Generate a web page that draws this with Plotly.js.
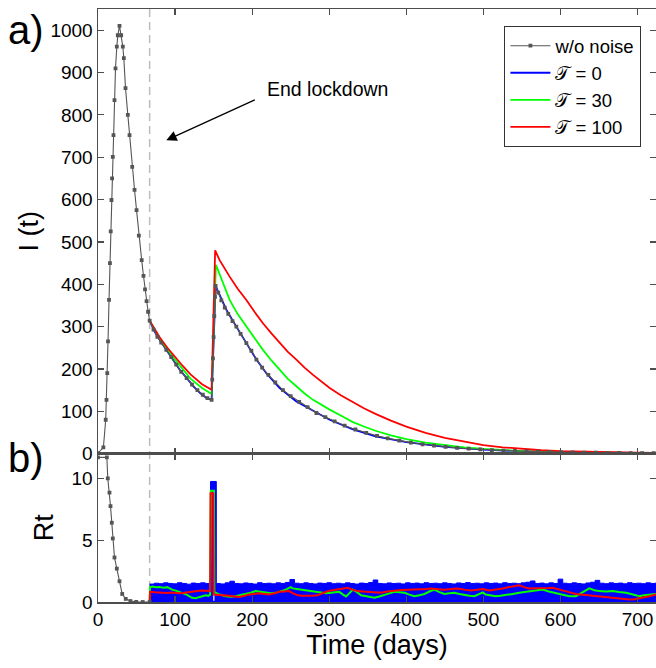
<!DOCTYPE html>
<html>
<head>
<meta charset="utf-8">
<script src="https://cdn.plot.ly/plotly-3.0.1.min.js"></script>
<style>html,body{margin:0;padding:0;background:#fff;}#chart{width:656px;height:668px;}</style>
</head>
<body>
<div id="chart"></div>
<script>
// ---------- Panel a: I(t) ----------
const noNoiseDays = [0,7,10,11,12,13,14.3,15.5,16.5,17.5,18.3,19.2,20.1,21.4,22.7,24.4,25.7,27.9,30.1,32.2,33.5,35.7,38.7,40.9,44.4,47.4,50,53,56.7,59,61,63,65,67,
  72,77,82,88.6,95,101.5,108,115,122,129,136,142,147.4,
  148.2,149.1,150,150.9,151.8,152.6,
  156,160,164.5,169,174.5,179.5,185,192.5,199,205.5,213,221,230,240,250,261,272,283.4,295,307,
  320,334,348,362,376,391,406,421,436,451,466,481,496,511,526,541,556,571,586,601,616,631,646,661,676,691,706,721];
const noNoiseI = [1,15,80,127,190,265,363,450,525,599,650,701,752,835,910,961,988,1010,988,961,934,863,800,752,677,623,575,515,457,420,388,360,335,314,
  293,276,262,245,228,210,193,178.5,163,150,139,131,127,
  175,225,275,325,370,396,
  380,362,345,330,313,300,283,261,243,222,203,186,168,150,136,122,110,96,86,76,
  66,57,49,42,36,30.5,26,22,18.8,16,13.6,11.6,10,8.5,7.3,6.2,5.3,4.6,3.9,3.4,2.9,2.5,2.1,1.8,1.6,1.4,1.2,1.05];

const tau0Days = [67,73.4,79.9,88.6,97.4,106,115,123.8,132.5,141,147.4,152.6,155.6,166.5,179.5,192.5,205.5,218.4,235.7,257.4,283.4,300.6,330,360,400,450,500,550,600,650,700,724];
const tau0I    = [314,288,269,245,222,198,178.5,159,143,131,127,396,384,340,300,261,222,190,155,123,96,80,58,41,27,16,9.5,5.5,3.3,2,1.2,0.9];

const tau30Days = [67,80,100,120,135,147.4,153,160.5,170.8,181,192.5,203,214,225,235.7,246,257.4,268,279,290,300.6,315,330,345,360,380,400,425,450,475,500,525,550,575,600,650,700,724];
const tau30I    = [314,272,222,177,155,141,446,409,363,330,300,272,245,220,198,177,159,142,127,115,104,90,75,64,54,43,34,26,20,15,11,8,6,4.5,3.5,2,1.3,1.1];

const tau100Days = [67,80,90,100,110,120,135,147.4,152,157.8,164,170.8,181,192.5,203,214,225,235.7,246,257.4,268,279,290,300.6,315,330,345,360,380,400,425,450,475,500,525,550,575,600,650,700,724];
const tau100I    = [314,275,250,228,207,187,164,151,480,457,437,418,390,363,335,308,284,261,241,222,203,186,170,155,138,122,107,94,78,64,49,37,28,20,15,11,8,6,3.5,2.2,1.8];

// ---------- Panel b: R_t ----------
const noNoiseRDays = [0,11.5,12.7,14.9,16.2,17.9,19.2,21.4,24.4,27.9,31.4,36,42,49.6,58,67];
const noNoiseR     = [11.7,11.7,10.0,8.84,7.76,6.41,5.14,3.6,2.7,1.68,0.65,0.25,0.08,0.01,0,0];

const bandDays = [67,73,79,85,91,97,103,109,115,121,127,133,139,146,153.5,
  159,165,171,177,183,189,195,201,207,213,219,225,231,237,243,249,255,261,267,273,279,285,291,297,303,309,315,321,327,333,339,345,351,357,363,369,375,381,387,393,399,405,411,417,423,429,435,441,447,453,459,465,471,477,483,489,495,501,507,513,519,525,531,537,543,549,555,561,567,573,579,585,591,597,603,609,615,621,627,633,639,645,651,657,663,669,675,681,687,693,699,705,711,717,723,724];
const bandTop = [1.45,1.52,1.48,1.55,1.5,1.47,1.56,1.5,1.44,1.53,1.49,1.55,1.5,9.75,1.5,
  1.46,1.55,1.68,1.5,1.47,1.54,1.5,1.45,1.56,1.49,1.52,1.47,1.55,1.5,1.58,1.82,1.52,1.48,1.55,1.5,1.46,1.53,1.5,1.56,1.48,1.52,1.47,1.55,1.5,1.45,1.53,1.5,1.57,1.78,1.5,1.47,1.54,1.49,1.52,1.46,1.55,1.5,1.53,1.47,1.56,1.5,1.52,1.48,1.55,1.5,1.46,1.54,1.5,1.57,1.49,1.52,1.47,1.55,1.5,1.53,1.47,1.56,1.5,1.52,1.48,1.55,1.6,1.7,1.5,1.53,1.47,1.55,1.5,1.85,1.52,1.48,1.55,1.5,1.46,1.54,1.6,1.75,1.52,1.48,1.55,1.5,1.53,1.47,1.56,1.5,1.52,1.48,1.55,1.5,1.53,1.53];

const gapDays = [150.3,150.3];
const gapR    = [0.1,8.6];

const tau30RDays = [67,67.5,71,75,80,85,90,96,102,109,115,122,127,131,135,139.6,143,145.5,146.5,150.5,151,152.6,158,165.6,172,178.6,185,191.6,198,204.5,211,217.5,224,230.5,237,243.5,250,252.6,258,263.4,270,276.4,283,289.4,296,302.4,308,313,318,321.9,326,330.5,336,341.3,350,358.7,365,371.6,378,384.6,391,397.6,404,410.6,417,423.6,430,436.6,443,449.6,456,462.6,469,475.5,482,488.5,494,499.3,503,509,516,522,529,538,546.6,553,559.6,568,577,585,594,603,611.5,620,629,637.5,644,650.5,659,667.8,676,685,694,702,709,715.4,724];
const tau30R = [0,1.2,1.25,1.2,1.22,1.15,1.2,1.0,0.9,0.74,0.6,0.34,0.3,0.39,0.45,0.55,0.5,0.6,9.0,9.0,0.8,0.74,0.6,0.47,0.42,0.47,0.55,0.61,0.75,0.88,0.8,0.74,0.7,0.74,0.85,1.0,1.2,1.1,1.05,1.0,0.95,0.9,0.8,0.74,0.7,0.74,0.78,0.82,0.6,0.45,0.7,1.0,0.8,0.55,0.45,0.34,0.45,0.55,0.7,0.82,0.78,0.74,0.6,0.47,0.55,0.65,0.85,1.0,0.8,0.65,0.7,0.74,0.65,0.55,0.5,0.47,0.65,0.78,0.6,0.52,0.47,0.5,0.55,0.65,0.74,0.8,0.88,0.95,1.0,0.85,0.74,0.6,0.47,0.47,0.8,1.1,0.95,0.88,0.85,0.88,0.8,0.74,0.6,0.47,0.55,0.6,0.65];

const tau100RDays = [67,67.5,74,80,86,90,95,99,106,112,118,125.5,130,134,140,145.5,146,149.5,150,154.8,162,170,176,183,190,196,203,209,216,222,229,235,241,248,253,259,265,272,278,285,291,298,304,311,317,324,330,337,343,350,358,367,375,384.6,393,402,410,419,426,432,441,449.6,458,467,475,484,492,499.3,507.6,516,525,532,538,546.6,553,559.6,568,577,584,590,597,603,611,620,628,637.5,646,654.8,663,672,680,689.4,696,702,709,715.4,724];
const tau100R = [0,0.82,0.78,0.75,0.7,0.72,0.76,0.74,0.7,0.74,0.78,0.82,0.88,0.93,0.9,0.88,8.8,8.8,0.6,0.6,0.55,0.5,0.45,0.4,0.5,0.6,0.65,0.7,0.65,0.6,0.7,0.82,0.85,0.88,0.7,0.55,0.5,0.47,0.5,0.55,0.7,0.88,0.95,1.0,1.08,1.15,1.0,0.88,0.85,0.82,0.78,0.74,0.85,0.93,0.97,1.0,1.02,1.0,1.05,1.1,1.05,1.0,1.05,1.1,1.0,0.93,1.0,1.05,0.93,1.0,1.1,1.2,1.28,1.35,1.2,1.1,1.12,1.1,1.13,1.15,1.05,0.93,0.8,0.65,0.6,0.55,0.5,0.47,0.4,0.34,0.28,0.2,0.22,0.28,0.38,0.47,0.6];

const xTicks = [0,100,200,300,400,500,600,700];
const iTicks = [0,100,200,300,400,500,600,700,800,900,1000];
const rTicks = [0,5,10];
const lockdownEndDay = 67;

const GRAY = '#555555';
const FONT = 'Liberation Sans, Arial, Helvetica, sans-serif';

const traces = [
  // panel a
  {x: tau0Days, y: tau0I, type: 'scatter', mode: 'lines', name: '𝒯 = 0', legendrank: 2,
   line: {color: '#0000ff', width: 1.8}, xaxis: 'x', yaxis: 'y'},
  {x: tau30Days, y: tau30I, type: 'scatter', mode: 'lines', name: '𝒯 = 30', legendrank: 3,
   line: {color: '#00ff00', width: 1.8}, xaxis: 'x', yaxis: 'y'},
  {x: tau100Days, y: tau100I, type: 'scatter', mode: 'lines', name: '𝒯 = 100', legendrank: 4,
   line: {color: '#ff0000', width: 1.8}, xaxis: 'x', yaxis: 'y'},
  {x: noNoiseDays, y: noNoiseI, type: 'scatter', mode: 'lines+markers', name: 'w/o noise', legendrank: 1,
   line: {color: GRAY, width: 1.1}, marker: {symbol: 'square', size: 3.8, color: GRAY}, xaxis: 'x', yaxis: 'y'},
  // panel b
  {x: bandDays, y: bandTop, type: 'scatter', mode: 'lines', fill: 'tozeroy', fillcolor: '#0000ff',
   line: {color: '#0000ff', width: 1, shape: 'hv'}, showlegend: false, xaxis: 'x2', yaxis: 'y2'},
  {x: gapDays, y: gapR, type: 'scatter', mode: 'lines', line: {color: '#ffffff', width: 1.2},
   showlegend: false, xaxis: 'x2', yaxis: 'y2'},
  {x: tau30RDays, y: tau30R, type: 'scatter', mode: 'lines', line: {color: '#00ff00', width: 2},
   showlegend: false, xaxis: 'x2', yaxis: 'y2'},
  {x: tau100RDays, y: tau100R, type: 'scatter', mode: 'lines', line: {color: '#ff0000', width: 2},
   showlegend: false, xaxis: 'x2', yaxis: 'y2'},
  {x: noNoiseRDays, y: noNoiseR, type: 'scatter', mode: 'lines+markers', line: {color: GRAY, width: 1.1},
   marker: {symbol: 'square', size: 3.8, color: GRAY}, showlegend: false, xaxis: 'x2', yaxis: 'y2'}
];

const axisCommon = {
  showline: true, linecolor: '#4d4d4d', linewidth: 1.5, mirror: 'ticks',
  ticks: 'inside', ticklen: 6, tickwidth: 1.2, tickcolor: '#4d4d4d',
  showgrid: false, zeroline: false, tickfont: {family: FONT, size: 19, color: '#000'}
};

const splitFrac = 0.2502;

const layout = {
  width: 656, height: 668,
  margin: {l: 98, r: 0, t: 9, b: 65.5, pad: 0},
  paper_bgcolor: '#ffffff', plot_bgcolor: '#ffffff',
  font: {family: FONT, size: 19, color: '#000'},
  showlegend: true,
  legend: {x: 0.728, y: 0.9714, xanchor: 'left', yanchor: 'top', bgcolor: '#ffffff',
           bordercolor: '#333', borderwidth: 1.2, font: {family: FONT, size: 18.5, color: '#000'},
           tracegroupgap: 0, itemwidth: 40},
  xaxis: Object.assign({}, axisCommon, {domain: [0, 1], range: [0, 724], anchor: 'y',
           tickvals: xTicks, showticklabels: false}),
  yaxis: Object.assign({}, axisCommon, {domain: [splitFrac, 1], range: [0, 1050], anchor: 'x',
           tickvals: iTicks, title: {text: 'I (t)', font: {family: FONT, size: 27, color: '#000'}, standoff: 4}}),
  xaxis2: Object.assign({}, axisCommon, {domain: [0, 1], range: [0, 724], anchor: 'y2',
           tickvals: xTicks, showticklabels: true,
           title: {text: 'Time (days)', font: {family: FONT, size: 27, color: '#000'}, standoff: 6}}),
  yaxis2: Object.assign({}, axisCommon, {domain: [0, splitFrac], range: [0, 12], anchor: 'x2',
           tickvals: rTicks, title: {text: 'Rt', font: {family: FONT, size: 27, color: '#000'}, standoff: 10}}),
  shapes: [
    {type: 'line', xref: 'x', yref: 'paper', x0: lockdownEndDay, x1: lockdownEndDay, y0: 0, y1: 1,
     line: {color: '#bdbdbd', width: 1.5, dash: '8px,5px'}, layer: 'below'}
  ],
  annotations: [
    {xref: 'x', yref: 'y', x: 88.6, y: 740, ax: 90, ay: -41, axref: 'pixel', ayref: 'pixel',
     text: '', showarrow: true, arrowhead: 2, arrowsize: 1.6, arrowwidth: 1.3, arrowcolor: '#000'},
    {xref: 'paper', yref: 'paper', x: 0.412, y: 0.865, xanchor: 'center', yanchor: 'middle',
     text: 'End lockdown', showarrow: false, font: {family: FONT, size: 19.5, color: '#000'}},
    {xref: 'paper', yref: 'paper', x: -0.129, y: 0.965, xanchor: 'center', yanchor: 'middle',
     text: 'a)', showarrow: false, font: {family: FONT, size: 40, color: '#000'}},
    {xref: 'paper', yref: 'paper', x: -0.129, y: 0.243, xanchor: 'center', yanchor: 'middle',
     text: 'b)', showarrow: false, font: {family: FONT, size: 40, color: '#000'}}
  ]
};

Plotly.newPlot('chart', traces, layout, {displayModeBar: false, staticPlot: true});
</script>
</body>
</html>
